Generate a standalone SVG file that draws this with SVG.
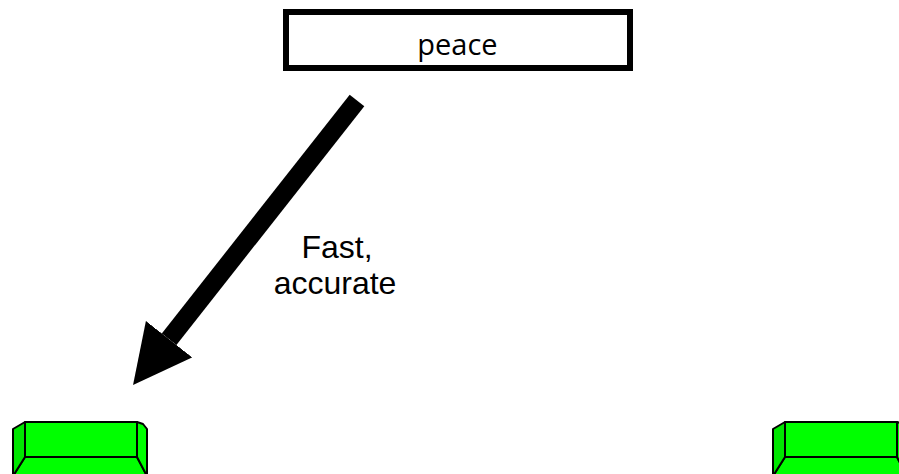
<svg xmlns="http://www.w3.org/2000/svg" width="899" height="474" viewBox="0 0 899 474">
  <defs>
    <style>
      .box { fill: #ffffff; stroke: #000000; stroke-width: 6; }
      .title { font-family: "Open Sans", "Liberation Sans", sans-serif; font-size: 29px; fill: #000000; text-anchor: middle; }
      .label { font-family: "Liberation Sans", Arial, sans-serif; font-size: 32px; fill: #000000; text-anchor: middle; }
      .blk { fill: #00ff00; stroke: #000000; stroke-width: 2; stroke-linejoin: round; }
      .blkside { fill: #00e600; stroke: #000000; stroke-width: 2; stroke-linejoin: round; }
      .shaft { stroke: #000000; stroke-width: 18.6; fill: none; }
    </style>
    <marker id="head" markerUnits="userSpaceOnUse" markerWidth="60" markerHeight="60" refX="0" refY="30" orient="auto" viewBox="0 0 60 60">
      <path d="M0,0.5 L58.3,30 L0,59.5 Z" fill="#000000"/>
    </marker>
    <g id="block-shape">
      <polygon class="blk" points="25,457 137,457 147,476 13,476"/>
      <polygon class="blkside" points="13,429 25,422 25,457 13,476"/>
      <polygon class="blk" points="137,422 143,424 147,429 147,476 137,457"/>
      <rect class="blk" x="25" y="422" width="112" height="35"/>
    </g>
  </defs>

  <g id="node-peace">
    <rect class="box" x="286" y="12" width="344" height="56"/>
    <text class="title" x="457.5" y="54.5">peace</text>
  </g>

  <g id="node-left-block">
    <use href="#block-shape"/>
  </g>

  <g id="node-right-block">
    <use href="#block-shape" transform="translate(760,0)"/>
  </g>

  <g id="connectors">
    <line class="shaft" x1="357" y1="100.5" x2="169.1" y2="339.2" marker-end="url(#head)"/>
    <text class="label" x="337" y="258">Fast,</text>
    <text class="label" x="335" y="294">accurate</text>
  </g>
</svg>
